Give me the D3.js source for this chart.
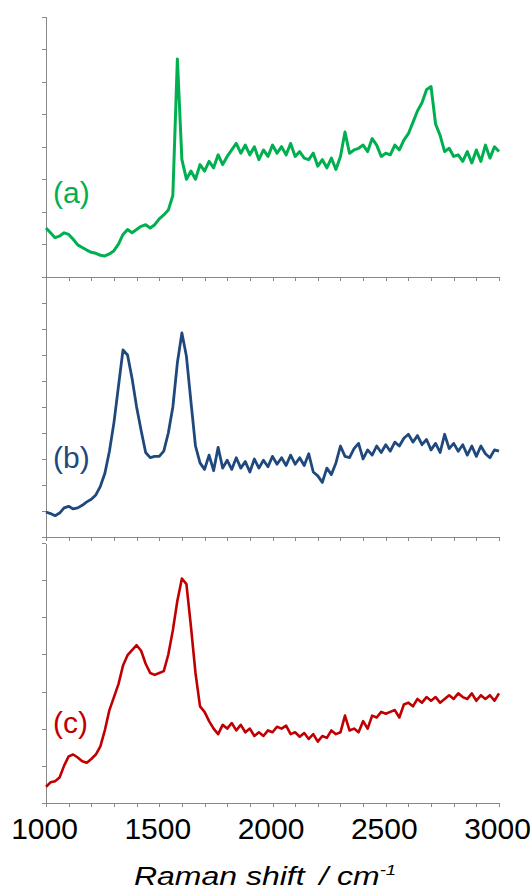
<!DOCTYPE html>
<html>
<head>
<meta charset="utf-8">
<script src="https://cdn.jsdelivr.net/npm/d3@7"></script>
<style>
  body { margin: 0; background: #fff; }
  svg { display: block; }
  text { font-family: "Liberation Sans", Arial, sans-serif; }
  .axis path, .axis line { stroke: #888; stroke-width: 1; shape-rendering: crispEdges; }
</style>
</head>
<body>
<div id="chartholder"></div>
<script>
// Raman shift grid (cm-1), sampled every 20
var shift = d3.range(1000, 3001, 20);

// intensities in tick units of each panel
var spectrumA = [
  1.5, 1.35, 1.2, 1.25, 1.35, 1.3, 1.15, 0.98, 0.9, 0.82,
  0.75, 0.72, 0.66, 0.64, 0.7, 0.8, 1.0, 1.3, 1.45, 1.35,
  1.45, 1.55, 1.6, 1.5, 1.6, 1.78, 1.9, 2.05, 2.5, 6.7,
  3.6, 3.0, 3.25, 3.0, 3.45, 3.25, 3.55, 3.35, 3.75, 3.45,
  3.7, 3.9, 4.1, 3.8, 4.05, 3.75, 4.0, 3.6, 3.9, 3.7,
  4.05, 3.8, 4.0, 3.75, 4.1, 3.7, 3.85, 3.65, 3.6, 3.8,
  3.4, 3.6, 3.35, 3.65, 3.3, 3.7, 4.45, 3.8, 3.9, 3.95,
  4.05, 3.85, 4.25, 4.05, 3.7, 3.8, 3.75, 4.05, 3.9, 4.2,
  4.4, 4.75, 5.1, 5.35, 5.75, 5.85, 4.7, 4.35, 3.85, 3.95,
  3.7, 3.75, 3.55, 3.85, 3.5, 3.9, 3.55, 4.05, 3.65, 4.0,
  3.85
];
var spectrumB = [
  0.96, 0.9, 0.82, 0.92, 1.12, 1.18, 1.08, 1.12, 1.22, 1.35,
  1.45, 1.62, 1.95, 2.45, 3.3, 4.4, 5.8, 7.2, 7.0, 6.1,
  5.0, 4.1, 3.25, 3.05, 3.1, 3.1, 3.3, 4.0, 5.0, 6.7,
  7.85, 6.95, 5.2, 3.5, 2.85, 2.6, 3.15, 2.55, 3.45, 2.65,
  2.95, 2.6, 3.05, 2.65, 2.9, 2.5, 3.0, 2.65, 2.95, 2.7,
  3.1, 2.8, 3.05, 2.75, 3.15, 2.8, 3.05, 2.75, 3.2, 2.5,
  2.35, 2.1, 2.65, 2.4, 2.85, 3.5, 3.1, 3.05, 3.4, 3.6,
  3.0, 3.35, 3.15, 3.5, 3.25, 3.55, 3.3, 3.65, 3.5, 3.8,
  3.95, 3.65, 3.9, 3.55, 3.75, 3.35, 3.6, 3.25, 3.95, 3.4,
  3.6, 3.3, 3.55, 3.15, 3.5, 3.1, 3.5, 3.2, 3.05, 3.35,
  3.3
];
var spectrumC = [
  0.43, 0.55, 0.58, 0.68, 1.0, 1.25, 1.3, 1.22, 1.12, 1.08,
  1.18, 1.3, 1.52, 1.96, 2.5, 2.85, 3.2, 3.7, 3.98, 4.12,
  4.25, 4.1, 3.75, 3.5, 3.45, 3.5, 3.55, 4.0, 4.65, 5.45,
  6.05, 5.9, 4.75, 3.5, 2.6, 2.45, 2.2, 2.0, 1.85, 2.1,
  2.0, 2.15, 1.95, 2.1, 1.9, 2.0, 1.8, 1.9, 1.8, 1.95,
  1.9, 2.05, 2.0, 2.08, 1.85, 1.9, 1.78, 1.88, 1.72, 1.85,
  1.65, 1.8, 1.75, 1.95, 1.85, 1.9, 2.35, 1.95, 2.0, 1.9,
  2.2, 2.0, 2.35, 2.3, 2.45, 2.4, 2.45, 2.5, 2.3, 2.65,
  2.7, 2.6, 2.8, 2.7, 2.85, 2.75, 2.85, 2.7, 2.8, 2.9,
  2.8, 2.95, 2.85, 2.8, 2.95, 2.75, 2.9, 2.8, 2.9, 2.75,
  2.95
];

var xTickLabels = [1000, 1500, 2000, 2500, 3000];
var panelLabels = ['(a)', '(b)', '(c)'];
var panelColors = ['#00b050', '#1f497d', '#c00000'];

var width = 532, height = 896;
var xLeft = 46, xRight = 499;

var panels = [
  { data: spectrumA, top: 16.7, bottom: 276.7, ymax: 8, label: panelLabels[0], color: panelColors[0], labelY: 203, lw: 3 },
  { data: spectrumB, top: 277, bottom: 537, ymax: 10, label: panelLabels[1], color: panelColors[1], labelY: 468, lw: 2.8 },
  { data: spectrumC, top: 543.3, bottom: 802.7, ymax: 7, label: panelLabels[2], color: panelColors[2], labelY: 733, lw: 2.6 }
];

var svg = d3.select('#chartholder').append('svg')
  .attr('width', width)
  .attr('height', height);

var xScale = d3.scaleLinear().domain([1000, 3000]).range([xLeft, xRight]);
var minorTicks = d3.range(1000, 3001, 100);

panels.forEach(function (p, i) {
  var yScale = d3.scaleLinear().domain([0, p.ymax]).range([p.bottom, p.top]);

  var isLast = i === panels.length - 1;
  var xAxis = d3.axisBottom(xScale)
    .tickValues(minorTicks)
    .tickSize(4)
    .tickSizeOuter(0)
    .tickPadding(11)
    .tickFormat(function (d) {
      return isLast && xTickLabels.indexOf(d) >= 0 ? d : '';
    });

  var gx = svg.append('g')
    .attr('class', 'axis')
    .attr('transform', 'translate(0,' + p.bottom + ')')
    .call(xAxis);
  gx.selectAll('text')
    .attr('fill', '#000')
    .style('font-size', '30px')
    .attr('dx', '-2');

  var yAxis = d3.axisLeft(yScale)
    .tickValues(d3.range(0, p.ymax + 1))
    .tickSize(4)
    .tickSizeOuter(0)
    .tickFormat('');
  svg.append('g')
    .attr('class', 'axis')
    .attr('transform', 'translate(' + xLeft + ',0)')
    .call(yAxis);

  var line = d3.line()
    .x(function (d, j) { return xScale(shift[j]); })
    .y(function (d) { return yScale(d); });

  svg.append('path')
    .datum(p.data)
    .attr('fill', 'none')
    .attr('stroke', p.color)
    .attr('stroke-width', p.lw)
    .attr('stroke-linejoin', 'round')
    .attr('d', line);

  svg.append('text')
    .attr('x', 53)
    .attr('y', p.labelY)
    .attr('fill', p.color)
    .style('font-size', '30px')
    .text(p.label);
});

// axis title
var title = svg.append('text')
  .attr('transform', 'translate(134,885) scale(1.23,1)')
  .style('font-size', '26px')
  .style('font-style', 'italic')
  .attr('fill', '#000');
title.append('tspan').text('Raman shift');
title.append('tspan').attr('dx', 12).text('/ cm');
title.append('tspan').attr('dy', -10).style('font-size', '15px').text('-1');
</script>
</body>
</html>
